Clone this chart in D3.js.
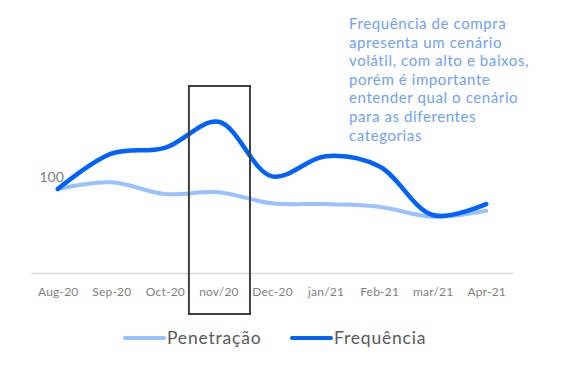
<!DOCTYPE html>
<html><head><meta charset="utf-8">
<script src="https://cdn.jsdelivr.net/npm/d3@7"></script>
<style>body{margin:0;background:#fff}svg{display:block}</style>
</head><body>
<svg id="c" width="572" height="366"></svg>
<script>
const months = ["Aug-20","Sep-20","Oct-20","nov/20","Dec-20","jan/21","Feb-21","mar/21","Apr-21"];
const penetracao = [100,108,94,96,83,82,79,67,74];
const frequencia = [100,142,149,180,115,139,127,69,82];
const seriesNames = ["Penetração","Frequência"];
const note = ["Frequência de compra","apresenta um cenário","volátil, com alto e baixos,","porém é importante","entender qual o cenário","para as diferentes","categorias"];

const font = "Lato, 'Open Sans', sans-serif";
const svg = d3.select("#c");
const x = d3.scalePoint().domain(months).range([31,513]).padding(0.5);
const y = d3.scaleLinear().domain([0,200]).range([273,105]);

// axis
const ax = svg.append("g").attr("transform","translate(0,273)")
  .call(d3.axisBottom(x).tickSize(0).tickPadding(14));
ax.select(".domain").attr("stroke","#d9d9d9").attr("stroke-width",1.5);
ax.selectAll("text").attr("fill","#7f7f7f").style("font-family",font).style("font-size","12px")
  .style("letter-spacing","0.2px");

const line = d3.line().x((d,i)=>x(months[i])).y(d=>y(d)).curve(d3.curveCatmullRom.alpha(0.5));
svg.append("path").datum(penetracao).attr("d",line).attr("fill","none")
  .attr("stroke","#99c0ff").attr("stroke-width",4).attr("stroke-linecap","round");
svg.append("path").datum(frequencia).attr("d",line).attr("fill","none")
  .attr("stroke","#0062ff").attr("stroke-width",4.5).attr("stroke-linecap","round");

// data label
svg.append("text").attr("x",x(months[0])+6).attr("y",y(frequencia[0])-7)
  .attr("text-anchor","end").attr("fill","#808080")
  .style("font-family",font).style("font-size","14px").text(frequencia[0]);

// highlight box
const bw = x.step()*1.14;
svg.append("rect").attr("x",x("nov/20")-bw/2+1).attr("y",86).attr("width",bw).attr("height",228)
  .attr("fill","none").attr("stroke","#404040").attr("stroke-width",2);

// annotation
const t = svg.append("text").attr("fill","#6fa0ff").style("font-family",font).style("font-size","15px")
  .style("letter-spacing","0.6px");
note.forEach((s,i)=>t.append("tspan").attr("x",349).attr("y",29+i*18.6).text(s));

// legend
const leg = [{n:seriesNames[0],c:"#99c0ff",x:125},{n:seriesNames[1],c:"#0062ff",x:292}];
leg.forEach(l=>{
  svg.append("line").attr("x1",l.x).attr("x2",l.x+39).attr("y1",338).attr("y2",338)
    .attr("stroke",l.c).attr("stroke-width",4).attr("stroke-linecap","round");
  svg.append("text").attr("x",l.x+42).attr("y",344).attr("fill","#595959")
    .style("font-family",font).style("font-size","17.5px").style("letter-spacing","0.8px").text(l.n);
});
</script>
</body></html>
